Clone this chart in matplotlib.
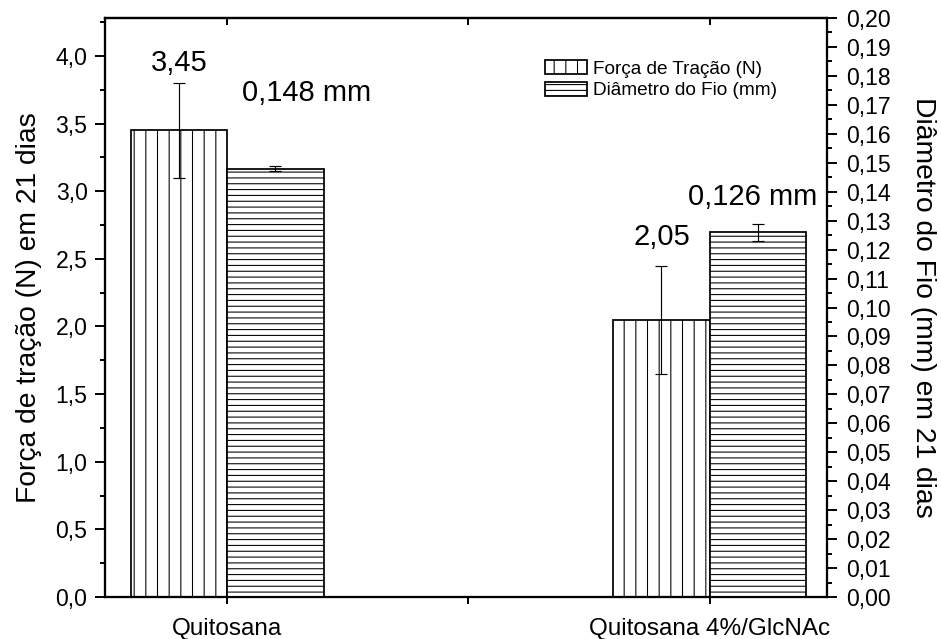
import numpy as np
import matplotlib
matplotlib.use("Agg")
import matplotlib.pyplot as plt
import matplotlib.ticker as mticker
from matplotlib.patches import Patch

plt.rcParams['font.family'] = ['Liberation Sans', 'DejaVu Sans']
plt.rcParams['hatch.linewidth'] = 0.55
plt.rcParams['hatch.color'] = 'black'

# --- data ---
categories = ['Quitosana', 'Quitosana 4%/GlcNAc']
forca = [3.45, 2.05]
forca_err = [0.35, 0.40]
diametro = [0.148, 0.126]
diametro_err = [0.001, 0.003]
forca_labels = ['3,45', '2,05']
diametro_labels = ['0,148 mm', '0,126 mm']

DPI = 140
fig = plt.figure(figsize=(941 / DPI, 639 / DPI), dpi=DPI)
ax = fig.add_axes([105 / 941, 42 / 639, 722 / 941, 579 / 639])
ax2 = ax.twinx()

x = np.arange(1, len(categories) + 1)
w = 0.2

ax.bar(x - w / 2, forca, width=w, color='white', edgecolor='black',
       linewidth=0.9, hatch='||', zorder=2)
ax.errorbar(x - w / 2, forca, yerr=forca_err, fmt='none', ecolor='black',
            elinewidth=0.6, capsize=3.2, capthick=0.6, zorder=3)

ax2.bar(x + w / 2, diametro, width=w, color='white', edgecolor='black',
        linewidth=0.9, hatch='----', zorder=2)
ax2.errorbar(x + w / 2, diametro, yerr=diametro_err, fmt='none', ecolor='black',
             elinewidth=0.6, capsize=3.2, capthick=0.6, zorder=3)

# value labels (positions placed by hand, like the original)
for xi, v, lab, dy in zip(x, forca, forca_labels, [0.50, 0.61]):
    ax.text(xi - w / 2, v + dy, lab, ha='center', va='center', fontsize=15)
for xi, v, lab, dy, dx in zip(x, diametro, diametro_labels, [0.026, 0.012], [-0.07, -0.145]):
    ax2.text(xi + w / 2 + dx, v + dy, lab, ha='left', va='center', fontsize=15)

# axes limits
ax.set_xlim(0.747, 2.243)
ax.set_ylim(0, 4.28)
ax2.set_ylim(0, 0.20)

comma1 = mticker.FuncFormatter(lambda v, _: f'{v:.1f}'.replace('.', ','))
comma2 = mticker.FuncFormatter(lambda v, _: f'{v:.2f}'.replace('.', ','))

ax.yaxis.set_major_locator(mticker.MultipleLocator(0.5))
ax.yaxis.set_minor_locator(mticker.MultipleLocator(0.25))
ax.yaxis.set_major_formatter(comma1)
ax2.yaxis.set_major_locator(mticker.MultipleLocator(0.01))
ax2.yaxis.set_minor_locator(mticker.MultipleLocator(0.005))
ax2.yaxis.set_major_formatter(comma2)

ax.set_xticks([1, 1.5, 2])
ax.set_xticklabels([categories[0], '', categories[1]], fontsize=12.5)

ax.tick_params(axis='y', which='major', direction='out', length=5, width=1.0,
               labelsize=11.8, pad=4)
ax.tick_params(axis='y', which='minor', direction='out', length=2.6, width=1.0)
ax.tick_params(axis='x', which='major', direction='out', length=3.5, width=1.0,
               pad=7.5)
ax2.tick_params(axis='y', which='major', direction='out', length=5, width=1.0,
                labelsize=11.8, pad=5)
ax2.tick_params(axis='y', which='minor', direction='out', length=2.6, width=1.0)

top = ax.secondary_xaxis('top')
top.set_xticks([1, 1.5, 2])
top.tick_params(direction='in', length=3.5, width=1.0, labeltop=False)
top.spines['top'].set_linewidth(1.1)

for a in (ax, ax2):
    for s in a.spines.values():
        s.set_linewidth(1.1)

ax.set_ylabel('Força de tração (N) em 21 dias', fontsize=14.5, labelpad=7)
ax2.set_ylabel('Diâmetro do Fio (mm) em 21 dias', fontsize=14.5, rotation=270,
               labelpad=23)

handles = [Patch(facecolor='white', edgecolor='black', hatch='||', linewidth=0.9),
           Patch(facecolor='white', edgecolor='black', hatch='----', linewidth=0.9)]
ax2.legend(handles, ['Força de Tração (N)', 'Diâmetro do Fio (mm)'],
           loc='upper left', bbox_to_anchor=(0.61, 0.927), frameon=False,
           fontsize=9.8, handlelength=2.2, handleheight=0.75, handletextpad=0.3,
           labelspacing=0.2, borderaxespad=0, borderpad=0)

fig.savefig('out.png', dpi=DPI)
